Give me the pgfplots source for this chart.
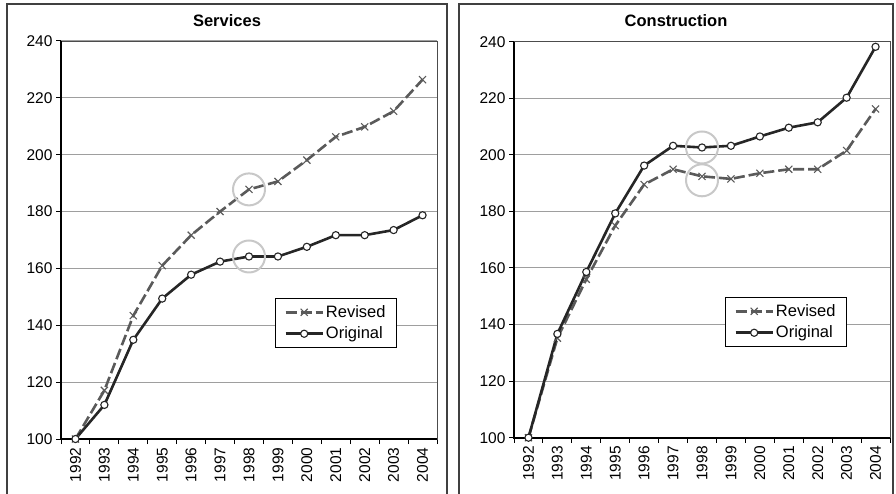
\documentclass[border=0pt]{standalone}
\usepackage{pgfplots}
\pgfplotsset{compat=1.18}
\usepackage{fontspec}
\setmainfont{Liberation Sans}
\definecolor{revc}{HTML}{5A5A5A}
\definecolor{orgc}{HTML}{262626}
\definecolor{hlc}{HTML}{C8C8C8}
\pgfplotsset{
  panel/.style={
    scale only axis, width=376pt, height=398pt, anchor=south west,
    xmin=-0.5, xmax=12.5, ymin=100, ymax=240,
    ytick={100,120,...,240},
    xtick={0,...,12},
    xticklabels={1992,1993,1994,1995,1996,1997,1998,1999,2000,2001,2002,2003,2004},
    minor xtick={-0.5,0.5,...,12.5},
    xtick pos=bottom, ytick pos=left,
    major x tick style={draw=none},
    minor x tick style={black, line width=1pt},
    major y tick style={black, line width=1pt},
    tick align=outside, major tick length=5pt, minor tick length=5pt,
    x tick label style={rotate=90, anchor=east, font=\fontsize{15.5}{16}\selectfont},
    y tick label style={font=\fontsize{15.5}{16}\selectfont},
    /pgf/number format/assume math mode=true,
    ymajorgrids, grid style={black!38, line width=1pt},
    axis line style={black!70, line width=0.8pt},
    clip=false,
    legend cell align=left,
    legend style={draw=black, line width=0.9pt, font=\fontsize{16.5}{18}\selectfont,
      inner xsep=9pt, inner ysep=5pt, row sep=4pt},
    legend image code/.code={\draw[mark repeat=2,mark phase=2,##1] plot coordinates {(0cm,0cm)(0.65cm,0cm)(1.3cm,0cm)};},
  },
  rev/.style={color=revc, line width=2.6pt, dash pattern=on 11pt off 4pt, mark=x, mark size=5pt, mark options={solid, line width=1.1pt}},
  org/.style={color=orgc, line width=2.6pt, mark=*, mark size=3.6pt, mark options={solid, fill=white, line width=1.1pt}},
  hl/.style={only marks, mark=o, mark size=16pt, mark options={draw=hlc, line width=2pt}, forget plot},
}
\begin{document}
\begin{tikzpicture}[x=1pt,y=1pt]
\useasboundingbox (0,0) rectangle (896,493);
\draw[line width=1.3pt, black!75] (7,-2) -- (7,489) -- (447,489) -- (447,-2);
\draw[line width=1.3pt, black!75] (459,-2) -- (459,489) -- (893,489) -- (893,-2);
\node[font=\bfseries\fontsize{16.5}{18}\selectfont] at (227,472) {Services};
\node[font=\bfseries\fontsize{16.5}{18}\selectfont] at (676,472) {Construction};

\begin{axis}[panel, at={(61pt,54pt)},
  legend style={at={(0.569,0.354)}, anchor=north west}]
\addplot[rev] coordinates {(0,100)(1,117.1)(2,143.4)(3,161)(4,171.7)(5,180)(6,187.8)(7,190.6)(8,198.1)(9,206.3)(10,209.8)(11,215.3)(12,226.4)};
\addlegendentry{Revised}
\addplot[org] coordinates {(0,100)(1,112)(2,134.9)(3,149.4)(4,157.8)(5,162.4)(6,164.2)(7,164.2)(8,167.6)(9,171.7)(10,171.7)(11,173.5)(12,178.7)};
\addlegendentry{Original}
\addplot[hl] coordinates {(6,187.8)(6,164.2)};
\draw[line width=1.7pt, black] (rel axis cs:0,1) -- (rel axis cs:0,0) -- (rel axis cs:1,0);
\end{axis}

\begin{axis}[panel, at={(514pt,55.3pt)}, height=396pt,
  legend style={at={(0.561,0.355)}, anchor=north west}]
\addplot[rev] coordinates {(0,100)(1,135.2)(2,156)(3,175)(4,189.5)(5,194.9)(6,192.4)(7,191.5)(8,193.5)(9,194.9)(10,194.9)(11,201.5)(12,216.2)};
\addlegendentry{Revised}
\addplot[org] coordinates {(0,100)(1,136.7)(2,158.6)(3,179.3)(4,196.2)(5,203.2)(6,202.6)(7,203.2)(8,206.5)(9,209.6)(10,211.5)(11,220.2)(12,238.2)};
\addlegendentry{Original}
\addplot[hl] coordinates {(6,202.6)(6,191)};
\draw[line width=1.7pt, black] (rel axis cs:0,1) -- (rel axis cs:0,0) -- (rel axis cs:1,0);
\end{axis}
\end{tikzpicture}
\end{document}
